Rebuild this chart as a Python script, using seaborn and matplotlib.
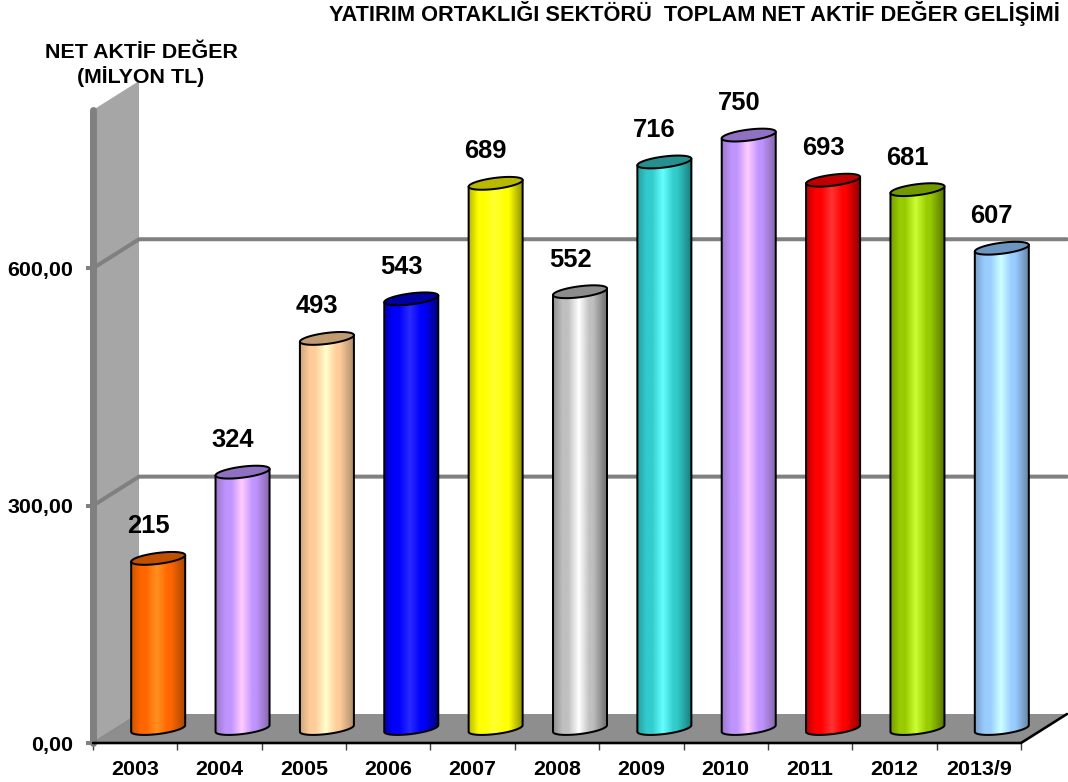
import numpy as np
import matplotlib
matplotlib.use("Agg")
import matplotlib.pyplot as plt
from matplotlib.colors import LinearSegmentedColormap, to_rgb
from matplotlib.patches import Polygon
import seaborn as sns

# Data
years = ["2003", "2004", "2005", "2006", "2007", "2008", "2009", "2010", "2011", "2012", "2013/9"]
values = [215, 324, 493, 543, 689, 552, 716, 750, 693, 681, 607]
y_ticks = [0, 300, 600]
y_tick_labels = ["0,00", "300,00", "600,00"]

# Cylinder colours
base_colors = ["#ff6600", "#c094ff", "#ffcc99", "#0000ff", "#ffff00", "#c0c0c0",
               "#33cccc", "#c094ff", "#ff0000", "#99cc00", "#99ccff"]
light_colors = ["#ff9020", "#ffccff", "#ffffcc", "#2a2aff", "#ffff33", "#ffffff",
                "#66ffff", "#ffccff", "#ff3333", "#ccff33", "#ccffff"]
dark_colors = ["#a84800", "#8468a8", "#ad8c6c", "#000080", "#8f8f00", "#6e6e6e",
               "#1c8080", "#8468a8", "#8f0000", "#5a7800", "#6486a8"]
top_colors = ["#c05000", "#9070c0", "#c09a70", "#0000a0", "#b8b800", "#8c8c8c",
              "#268f8f", "#9070c0", "#c00000", "#739900", "#6c96c0"]

W, H = 1068, 782
PX = 0.72  # points per pixel at dpi 100
FONT = "Liberation Sans"
GRID_GRAY = "#808080"

sns.set_theme(style="white")
plt.rcParams["font.family"] = [FONT, "DejaVu Sans"]
plt.rcParams["font.weight"] = "bold"
plt.rcParams["text.color"] = "black"
plt.rcParams["xtick.labelcolor"] = "black"
plt.rcParams["ytick.labelcolor"] = "black"

fig = plt.figure(figsize=(W / 100, H / 100), dpi=100, facecolor="white")


def axes_px(left, right, top, bottom):
    return fig.add_axes([left / W, 1 - bottom / H, (right - left) / W, (bottom - top) / H])


def mix(c1, c2, t=0.5):
    a, b = np.array(to_rgb(c1)), np.array(to_rgb(c2))
    return tuple(a + (b - a) * t)


# Front plane of the 3D box: value 0 at y=743, 800 at y=110
Y_SCALE = 633 / 800
ax = axes_px(93, 1021, 110, 743)
ax.set_xlim(-0.5, 10.5)
ax.set_ylim(0, 800)
ax.patch.set_alpha(0)
sns.despine(ax=ax, left=True, bottom=True, top=True, right=True)

DEPTH_X = 46 / (928 / 11)
DEPTH_Y = 29 / Y_SCALE

# back wall and floor
ax.add_patch(Polygon([(-0.5, 0), (-0.5 + DEPTH_X, DEPTH_Y), (-0.5 + DEPTH_X, 800 + DEPTH_Y), (-0.5, 800)],
                     fc="#a6a6a6", ec="none", clip_on=False, zorder=1))
ax.add_patch(Polygon([(-0.5, 0), (10.5, 0), (10.5 + DEPTH_X, DEPTH_Y), (-0.5 + DEPTH_X, DEPTH_Y)],
                     fc="#8e8e8e", ec="none", clip_on=False, zorder=1))
ax.plot([-0.5, -0.5 + DEPTH_X], [0, DEPTH_Y], color="#8c8c8c", lw=2 * PX, clip_on=False, zorder=2)

# gridlines run over the wall and along the back
for v in y_ticks[1:]:
    ax.plot([-0.5, -0.5 + DEPTH_X, 10.5 + DEPTH_X], [v, v + DEPTH_Y, v + DEPTH_Y],
            color=GRID_GRAY, lw=4 * PX, clip_on=False, zorder=2, solid_joinstyle="miter")

# left axis strip and front edge
ax.plot([-0.5, -0.5], [0, 800], color=GRID_GRAY, lw=7 * PX, clip_on=False, zorder=3, solid_capstyle="round")
ax.plot([-0.5, 10.5, 10.5 + DEPTH_X], [0, 0, DEPTH_Y], color="black", lw=2.6 * PX, clip_on=False, zorder=4)

ax.set_yticks(y_ticks)
ax.set_yticklabels(y_tick_labels)
ax.set_xticks(np.arange(11))
ax.set_xticklabels(years)
ax.set_xticks(np.arange(12) - 0.5, minor=True)
ax.tick_params(axis="y", length=7 * PX, width=4 * PX, color=GRID_GRAY, pad=13 * PX, labelsize=21.5 * PX, left=True)
ax.tick_params(axis="x", which="major", length=0, pad=17 * PX, labelsize=21.5 * PX)
ax.tick_params(axis="x", which="minor", length=7 * PX, width=1, color="#404040", bottom=True)
ax.set_xlabel("")
ax.set_ylabel("")

# Bars stand in the middle of the floor depth, half a depth in from the front plane
MIN_V = -30
ax_bars = axes_px(93 + 23, 1021 + 23, 110 - 14.5, 743 - 14.5 - MIN_V * Y_SCALE)
sns.barplot(x=years, y=values, hue=years, palette=base_colors, legend=False, dodge=False,
            width=54 / (928 / 11), ax=ax_bars, linewidth=0)
ax_bars.set_xlim(-0.5, 10.5)
ax_bars.set_ylim(MIN_V, 800)
ax_bars.set_autoscale_on(False)
ax_bars.set_axis_off()

ELL_B = 5.5 / Y_SCALE
ELL_SHEAR = 3.3 / Y_SCALE
theta = np.linspace(0, 2 * np.pi, 121)
lower = np.linspace(np.pi, 2 * np.pi, 61)
bars = sorted(ax_bars.patches, key=lambda p: p.get_x())

for i, bar in enumerate(bars):
    x0, w, h = bar.get_x(), bar.get_width(), bar.get_height()
    cx, hw = x0 + w / 2, w / 2

    # side of the cylinder: straight edges plus the lower half of the bottom ellipse
    arc_x = cx + hw * np.cos(lower)
    arc_y = ELL_SHEAR * np.cos(lower) + ELL_B * np.sin(lower)
    xs = np.r_[cx - hw, arc_x, cx + hw]
    ys = np.r_[h - ELL_SHEAR, arc_y, h + ELL_SHEAR]
    body = Polygon(np.c_[xs, ys], closed=True, fc="none", ec="black", lw=2 * PX, zorder=4, joinstyle="round")
    ax_bars.add_patch(body)
    bar.set_clip_path(body)

    base, light, dark = base_colors[i], light_colors[i], dark_colors[i]
    cmap = LinearSegmentedColormap.from_list(
        "cyl", [(0, mix(base, dark, 0.6)), (0.18, base), (0.28, base), (0.48, light), (0.68, base),
                (0.74, base), (1, dark)])
    im = ax_bars.imshow(np.linspace(0, 1, 256)[None, :], cmap=cmap, aspect="auto",
                        extent=[x0, x0 + w, MIN_V, h + ELL_SHEAR], zorder=3, interpolation="bilinear")
    im.set_clip_path(body)

    # top cap
    cap_x = cx + hw * np.cos(theta)
    cap_y = h + ELL_SHEAR * np.cos(theta) + ELL_B * np.sin(theta)
    ax_bars.add_patch(Polygon(np.c_[cap_x, cap_y], closed=True, fc=top_colors[i], ec="black",
                              lw=2 * PX, zorder=5, clip_on=False))

    ax_bars.annotate(str(values[i]), (cx, h), xytext=(-10 * PX, 32 * PX), textcoords="offset points",
                     ha="center", va="center", fontsize=25.5 * PX, fontweight="bold", color="black",
                     annotation_clip=False, zorder=6)

# Titles
fig.text(1060 / W, 1 - 13 / H, "YATIRIM ORTAKLIĞI SEKTÖRÜ  TOPLAM NET AKTİF DEĞER GELİŞİMİ",
         ha="right", va="center", fontsize=21.8 * PX, fontweight="bold", color="black")
fig.text(141 / W, 1 - 52 / H, "NET AKTİF DEĞER", ha="center", va="center",
         fontsize=21.4 * PX, fontweight="bold", color="black")
fig.text(141 / W, 1 - 77 / H, "(MİLYON TL)", ha="center", va="center",
         fontsize=21.4 * PX, fontweight="bold", color="black")

fig.savefig("out.png", dpi=100, facecolor="white")
